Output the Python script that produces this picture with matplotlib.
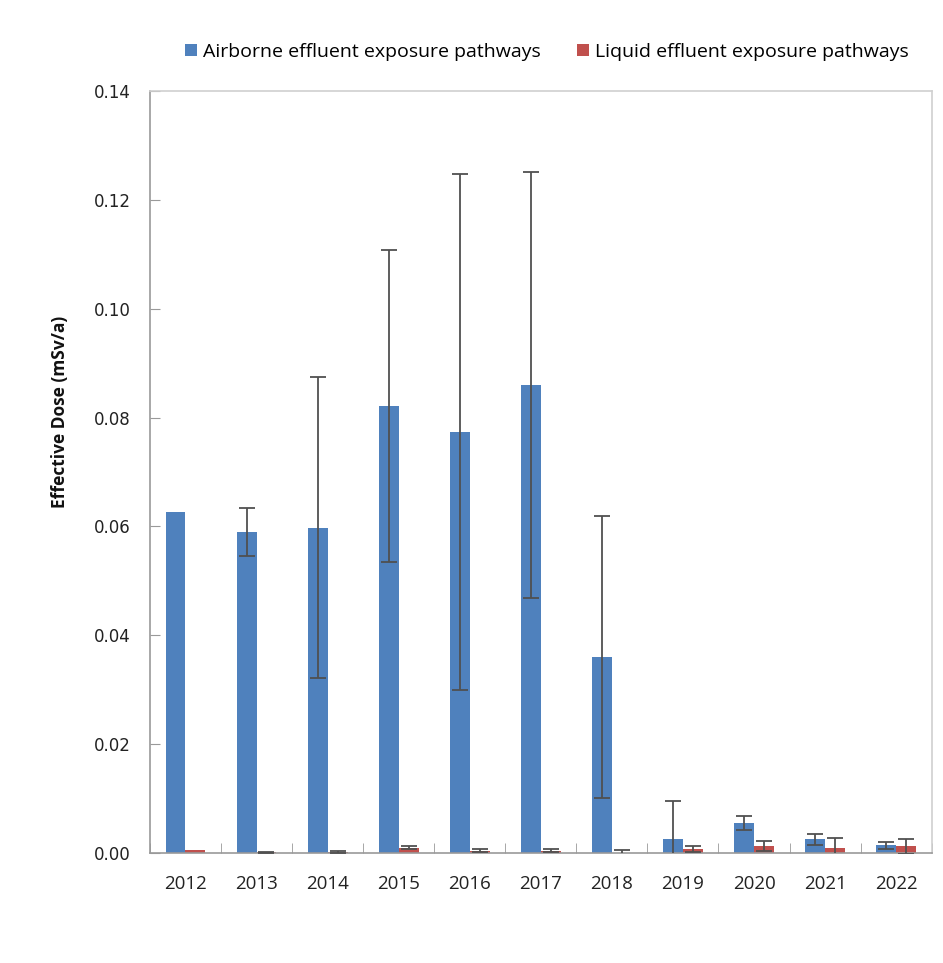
import matplotlib
matplotlib.use("Agg")
import matplotlib.pyplot as plt
import numpy as np

years = ["2012", "2013", "2014", "2015", "2016", "2017", "2018", "2019", "2020", "2021", "2022"]
airborne = [0.0626, 0.0590, 0.0598, 0.0821, 0.0773, 0.0860, 0.0360, 0.0026, 0.0055, 0.0025, 0.0014]
airborne_err = [0.0, 0.0044, 0.0277, 0.0286, 0.0474, 0.0391, 0.0259, 0.0070, 0.0013, 0.0010, 0.0007]
liquid = [0.0006, 0.0001, 0.0002, 0.0010, 0.0004, 0.0004, 0.0000, 0.0007, 0.0013, 0.0010, 0.0012]
liquid_err = [0.0, 0.0001, 0.0002, 0.0002, 0.0003, 0.0003, 0.0005, 0.0006, 0.0010, 0.0018, 0.0013]
ylabel = "Effective Dose (mSv/a)"
series_names = ["Airborne effluent exposure pathways", "Liquid effluent exposure pathways"]

blue = "#4F81BD"
red = "#C0504D"
errc = "#505050"

fig = plt.figure(figsize=(9.43, 9.63), dpi=100)
ax = fig.add_axes([0.159, 0.1142, 0.829, 0.7913])

x = np.arange(len(years))
w = 0.28
eb = dict(ecolor=errc, elinewidth=1.3, capsize=5.5, capthick=1.3)
ax.bar(x - w / 2, airborne, w, color=blue, label=series_names[0], zorder=2)
ax.bar(x + w / 2, liquid, w, color=red, label=series_names[1], zorder=2)
ae = np.array(airborne_err)
le = np.array(liquid_err)
mask_a = ae > 0
mask_l = le > 0
ax.errorbar((x - w / 2)[mask_a], np.array(airborne)[mask_a], yerr=ae[mask_a], fmt="none", zorder=3, **eb)
ax.errorbar((x + w / 2)[mask_l], np.array(liquid)[mask_l], yerr=le[mask_l], fmt="none", zorder=3, **eb)

ax.set_xlim(-0.5, len(years) - 0.5)
ax.set_ylim(0, 0.14)
yt = np.arange(0, 0.141, 0.02)
ax.set_yticks(yt)
ax.set_yticklabels([f"{v:.2f}" for v in yt], fontsize=12, color="#222222", family="DejaVu Sans")
ax.set_xticks(x)
ax.set_xticklabels(years, fontsize=13.5, color="#222222", family="Open Sans")
ax.tick_params(axis="x", length=0, pad=16)
ax.set_xticks(np.arange(-0.5, len(years), 1.0), minor=True)
ax.tick_params(axis="x", which="minor", direction="in", length=7, color="#999999")
ax.tick_params(axis="y", direction="in", length=7, color="#999999", pad=14)

for s in ["left", "bottom"]:
    ax.spines[s].set_color("#999999")
    ax.spines[s].set_linewidth(1.2)
for s in ["top", "right"]:
    ax.spines[s].set_color("#d0d0d0")
    ax.spines[s].set_linewidth(1.2)

fig.text(0.064, 0.572, ylabel, rotation=90, ha="center", va="center",
         fontsize=12.5, fontweight="bold", family="Open Sans", color="#111111")

leg = fig.legend(loc="center", bbox_to_anchor=(0.58, 0.946), ncol=2, frameon=False,
                 prop={"family": "Open Sans", "size": 14}, handlelength=0.6, handleheight=0.6,
                 handletextpad=0.3, columnspacing=1.9)

fig.savefig("out.png", dpi=100)
